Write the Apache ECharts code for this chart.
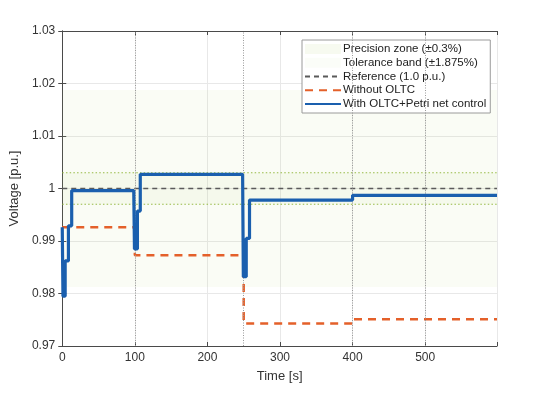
<!DOCTYPE html>
<html><head><meta charset="utf-8">
<script src="https://cdn.jsdelivr.net/npm/echarts@6/dist/echarts.min.js"></script>
<style>html,body{margin:0;padding:0;background:#fff}#c{width:550px;height:394px}</style>
</head><body><div id="c"></div>
<script>
// ---- data ----
const timeRange = [0, 599];
const voltRange = [0.97, 1.03];
const xTickStep = 100;
const eventTimes = [100, 250, 400, 500];
const refValue = 1.0;
const precisionZone = [0.997, 1.003];
const toleranceBand = [0.98125, 1.01875];

const noOltcTime = [0, 100, 100, 250, 250, 400, 400, 599];
const noOltcVolt = [0.9926, 0.9926, 0.9873, 0.9873, 0.9743, 0.9743, 0.9751, 0.9751];

const ctrlTime = [0, 1, 4, 4, 8.5, 8.5, 13, 13, 98.5, 99.5, 103.5, 103.5, 107.5, 107.5, 248.5, 249.5, 253.5, 253.5, 258, 258, 400, 400, 599];
const ctrlVolt = [0.9926, 0.9795, 0.9795, 0.9862, 0.9862, 0.9929, 0.9929, 0.9996, 0.9996, 0.9885, 0.9885, 0.9957, 0.9957, 1.0027, 1.0027, 0.9832, 0.9832, 0.9905, 0.9905, 0.9978, 0.9978, 0.9987, 0.9987];

const names = ['Precision zone (\u00b10.3%)', 'Tolerance band (\u00b11.875%)', 'Reference (1.0 p.u.)', 'Without OLTC', 'With OLTC+Petri net control'];

// ---- chart ----
const FONT = 'Liberation Sans, Arial, sans-serif';
const AX = '#4a4a4a';
const zip = (a, b) => a.map((v, i) => [v, b[i]]);
const chart = echarts.init(document.getElementById('c'), null, {renderer: 'canvas'});

const baseX = {
  type: 'value', min: timeRange[0], max: timeRange[1], interval: xTickStep,
  axisLine: {show: true, lineStyle: {color: AX, width: 1}},
  axisTick: {show: true, inside: true, length: 4, lineStyle: {color: AX}},
};
const baseY = {
  type: 'value', min: voltRange[0], max: voltRange[1], interval: 0.01,
  axisLine: {show: true, lineStyle: {color: AX, width: 1}},
  axisTick: {show: true, inside: true, length: 4, lineStyle: {color: AX}},
};
const hiddenSymbol = {opacity: 0};

const edgeSeries = precisionZone.map((v, i) => ({
  name: '_precisionEdge' + i, type: 'line', symbol: 'none', showSymbol: false, silent: true,
  data: [[timeRange[0], v], [timeRange[1], v]],
  lineStyle: {color: '#97bb45', type: [1.5, 2.2], width: 1.2},
  z: 2
}));

chart.setOption({
  animation: false,
  backgroundColor: '#fff',
  textStyle: {fontFamily: FONT},
  grid: {left: 62, right: 53, top: 31, bottom: 48, containLabel: false},
  xAxis: [
    Object.assign({}, baseX, {
      position: 'bottom',
      name: 'Time [s]', nameLocation: 'middle', nameGap: 24,
      nameTextStyle: {color: '#333', fontSize: 13, fontFamily: FONT},
      axisLabel: {color: '#333', fontSize: 12, margin: 6, fontFamily: FONT,
        formatter: v => (v % xTickStep === 0 ? String(v) : '')},
      splitLine: {show: true, lineStyle: {color: '#e8e8e8', width: 1}}
    }),
    Object.assign({}, baseX, {
      position: 'top', axisLabel: {show: false}, splitLine: {show: false}
    })
  ],
  yAxis: [
    Object.assign({}, baseY, {
      position: 'left',
      name: 'Voltage [p.u.]', nameLocation: 'middle', nameGap: 32, nameRotate: 90,
      nameTextStyle: {color: '#333', fontSize: 13, fontFamily: FONT},
      axisLabel: {color: '#333', fontSize: 12, margin: 7, fontFamily: FONT,
        formatter: v => String(+v.toFixed(2))},
      splitLine: {show: true, lineStyle: {color: '#e8e8e8', width: 1}}
    }),
    Object.assign({}, baseY, {
      position: 'right', axisLabel: {show: false}, splitLine: {show: false}
    })
  ],
  legend: {
    orient: 'vertical', left: 302, top: 40,
    backgroundColor: '#fff', borderColor: '#9a9a9a', borderWidth: 1,
    padding: [3, 4, 3, 2],
    itemWidth: 36, itemHeight: 10, itemGap: 1.5,
    textStyle: {color: '#222', fontSize: 11.5, lineHeight: 12.2, fontFamily: FONT, padding: [0, 0, 0, -3]},
    data: [
      {name: names[0], icon: 'rect', itemStyle: {color: 'rgba(190,215,130,0.12)'}},
      {name: names[1], icon: 'rect', itemStyle: {color: 'rgba(190,215,130,0.06)'}},
      {name: names[2], itemStyle: hiddenSymbol},
      {name: names[3], itemStyle: hiddenSymbol},
      {name: names[4], itemStyle: hiddenSymbol}
    ]
  },
  series: [
    {
      name: names[1], type: 'line', data: [], symbol: 'none',
      itemStyle: {color: 'rgba(190,215,130,0.06)'},
      markArea: {
        silent: true,
        itemStyle: {color: 'rgba(190,215,130,0.08)'},
        data: [[{yAxis: toleranceBand[0], xAxis: timeRange[0]}, {yAxis: toleranceBand[1], xAxis: timeRange[1]}]]
      },
      z: 1
    },
    {
      name: names[0], type: 'line', data: [], symbol: 'none',
      itemStyle: {color: 'rgba(190,215,130,0.12)'},
      markArea: {
        silent: true,
        itemStyle: {color: 'rgba(190,215,130,0.07)'},
        data: [[{yAxis: precisionZone[0], xAxis: timeRange[0]}, {yAxis: precisionZone[1], xAxis: timeRange[1]}]]
      },
      z: 2
    },
    ...edgeSeries,
    {
      name: '_events', type: 'line', data: [], symbol: 'none',
      markLine: {
        silent: true, symbol: 'none', label: {show: false},
        lineStyle: {color: '#9a9a9a', type: [1, 1.5], width: 1},
        data: eventTimes.map(t => ({xAxis: t}))
      },
      z: 1
    },
    {
      name: names[2], type: 'line', symbol: 'none', showSymbol: false,
      data: [[timeRange[0], refValue], [timeRange[1], refValue]],
      lineStyle: {color: '#5a5a5a', width: 1.5, type: [5, 4]},
      itemStyle: {color: '#5a5a5a'},
      z: 3
    },
    {
      name: names[3], type: 'line', symbol: 'none', showSymbol: false,
      data: zip(noOltcTime, noOltcVolt),
      lineStyle: {color: '#e4602a', width: 2.5, type: [8, 6]},
      itemStyle: {color: '#e4602a'},
      z: 4
    },
    {
      name: names[4], type: 'line', symbol: 'none', showSymbol: false,
      data: zip(ctrlTime, ctrlVolt),
      lineStyle: {color: '#1a5fae', width: 3.2},
      itemStyle: {color: '#1a5fae'},
      z: 5
    }
  ]
});
</script>
</body></html>
